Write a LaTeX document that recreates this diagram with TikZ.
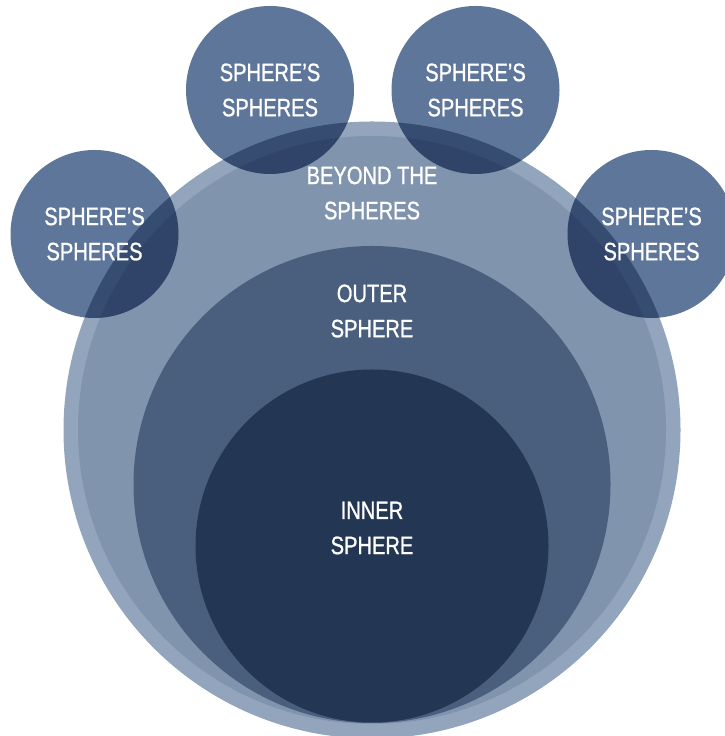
\documentclass[tikz,border=0pt]{standalone}
\usepackage{fontspec}
\setmainfont[FakeStretch=0.8, FakeBold=1]{Liberation Sans}
\usepackage{xcolor}
\definecolor{sring}{HTML}{93A5BC}
\definecolor{sbeyond}{HTML}{8094AE}
\definecolor{souter}{HTML}{4A5F7E}
\definecolor{sinner}{HTML}{233654}
\definecolor{ssat}{HTML}{5E7699}
\tikzset{
  caption/.style = {text=white, align=center,
                    font=\fontsize{14.3}{20}\selectfont},
  satfill/.style = {fill=ssat, blend mode=multiply},
}

\begin{document}
\begin{tikzpicture}[x=0.02cm, y=0.02cm]
\useasboundingbox (0,0) rectangle (724,736);
% ---- beyond the spheres: light rim and disc ----
\fill[sring] (372,306) circle (308.5);
\fill[sbeyond] (372,306) circle (294);
% ---- outer and inner sphere ----
\fill[souter] (372,251.5) circle (238.5);
\fill[sinner] (372,190) circle (176.5);
% ---- satellite spheres, darkened where they overlap ----
\foreach \px/\py in {94.5/502, 270/646, 475.5/646, 651.5/502}
  \fill[satfill] (\px,\py) circle (84);
% ---- labels ----
\node[caption] (beyond) at (372,543) {BEYOND THE\\SPHERES};
\node[caption] (outer) at (372,425) {OUTER\\SPHERE};
\node[caption] (inner) at (372,208) {INNER\\SPHERE};
\foreach \px/\py [count=\i] in {94.5/502, 270/646, 475.5/646, 651.5/502}
  \node[caption] (sat\i) at (\px,\py) {SPHERE’S\\SPHERES};
\end{tikzpicture}
\end{document}
